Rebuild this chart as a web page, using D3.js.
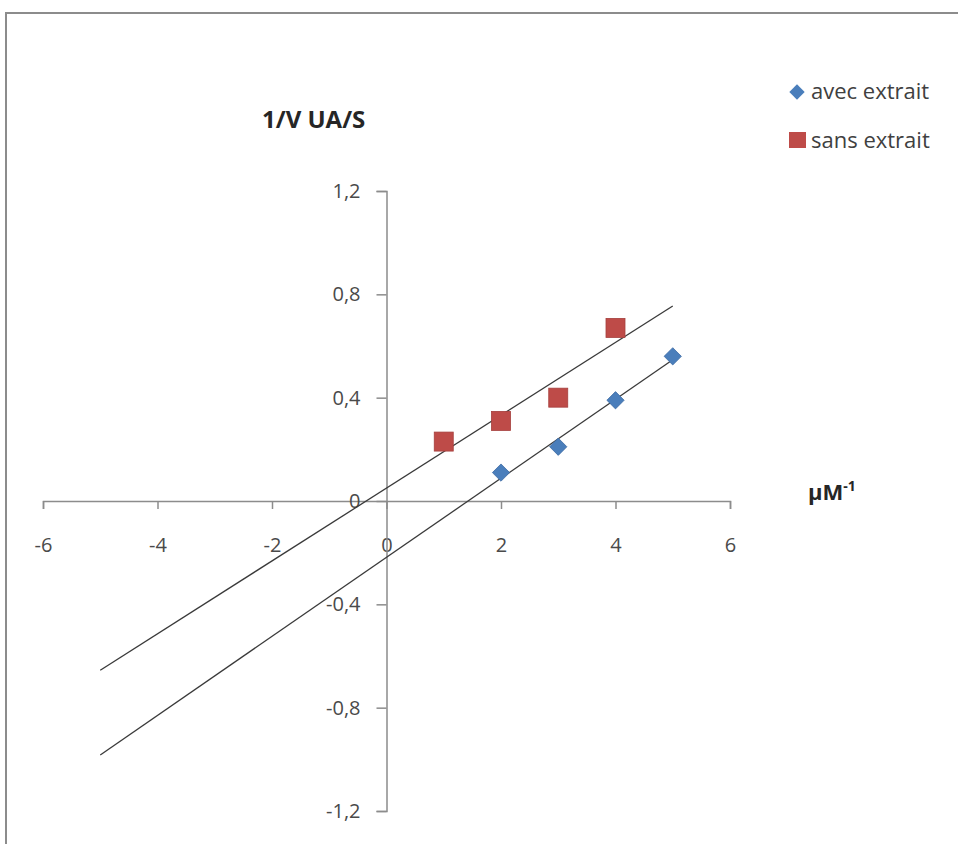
<!DOCTYPE html>
<html>
<head>
<meta charset="utf-8">
<script src="https://cdn.jsdelivr.net/npm/d3@7"></script>
<style>
  body { margin: 0; background: #fff; }
  text { font-family: "Open Sans", Lato, sans-serif; }
</style>
</head>
<body>
<div id="chart"></div>
<script>
// data
var avecX = [2, 3, 4, 5];
var avecY = [0.11, 0.21, 0.39, 0.56];
var sansX = [1, 2, 3, 4];
var sansY = [0.23, 0.31, 0.40, 0.67];
var xTicks = [-6, -4, -2, 0, 2, 4, 6];
var yTicks = [-1.2, -0.8, -0.4, 0, 0.4, 0.8, 1.2];
var trendRange = [-5, 5];

var W = 958, H = 844;

var svg = d3.select("#chart").append("svg")
    .attr("width", W)
    .attr("height", H);

// chart frame
svg.append("rect")
    .attr("x", 6).attr("y", 13)
    .attr("width", W + 10).attr("height", H + 10)
    .attr("fill", "#fff")
    .attr("stroke", "#8c8c8c")
    .attr("stroke-width", 2);

var x = d3.scaleLinear().domain([-6, 6]).range([43, 730]);
var y = d3.scaleLinear().domain([-1.2, 1.2]).range([811, 191]);

var fmt = function(d) { return String(d).replace(".", ","); };

// x axis through y = 0
var gx = svg.append("g")
    .attr("transform", "translate(0," + y(0) + ")")
    .call(d3.axisBottom(x).tickValues(xTicks).tickSize(8).tickPadding(36).tickFormat(fmt));

// y axis through x = 0
var gy = svg.append("g")
    .attr("transform", "translate(" + x(0) + ",0)")
    .call(d3.axisLeft(y).tickValues(yTicks).tickSize(10).tickPadding(16).tickFormat(fmt));

[gx, gy].forEach(function(g) {
  g.select(".domain").attr("stroke", "#8c8c8c").attr("stroke-width", 1.5);
  g.selectAll(".tick line").attr("stroke", "#8c8c8c").attr("stroke-width", 1.5);
  g.selectAll(".tick text")
      .attr("fill", "#4a4a4a")
      .style("font-size", "20px")
      .style("font-family", "'Open Sans', Lato, sans-serif");
});
gx.selectAll(".tick text").attr("dy", "0.35em");

// least-squares trendline
function fit(xs, ys) {
  var mx = d3.mean(xs), my = d3.mean(ys);
  var sxy = d3.sum(xs, function(v, i) { return (v - mx) * (ys[i] - my); });
  var sxx = d3.sum(xs, function(v) { return (v - mx) * (v - mx); });
  var b = sxy / sxx;
  return { slope: b, icpt: my - b * mx };
}

var line = d3.line()
    .x(function(d) { return x(d[0]); })
    .y(function(d) { return y(d[1]); });

[[sansX, sansY], [avecX, avecY]].forEach(function(s) {
  var f = fit(s[0], s[1]);
  var pts = trendRange.map(function(v) { return [v, f.icpt + f.slope * v]; });
  svg.append("path")
      .attr("d", line(pts))
      .attr("fill", "none")
      .attr("stroke", "#3a3a3a")
      .attr("stroke-width", 1.3);
});

// markers
var diamond = d3.symbol().type(d3.symbolDiamond2).size(190);
svg.selectAll(".avec")
    .data(avecX.map(function(v, i) { return [v, avecY[i]]; }))
    .enter().append("path")
      .attr("class", "avec")
      .attr("d", diamond)
      .attr("transform", function(d) { return "translate(" + x(d[0]) + "," + y(d[1]) + ")"; })
      .attr("fill", "#4a7ebb")
      .attr("stroke", "#3d6ba3")
      .attr("stroke-width", 0.8);

svg.selectAll(".sans")
    .data(sansX.map(function(v, i) { return [v, sansY[i]]; }))
    .enter().append("rect")
      .attr("class", "sans")
      .attr("x", function(d) { return x(d[0]) - 9.5; })
      .attr("y", function(d) { return y(d[1]) - 9.5; })
      .attr("width", 19).attr("height", 19)
      .attr("fill", "#be4b48")
      .attr("stroke", "#a53f3c")
      .attr("stroke-width", 0.8);

// axis titles
svg.append("text")
    .attr("x", 262).attr("y", 128)
    .attr("fill", "#262626")
    .style("font-size", "24px")
    .style("font-weight", "bold")
    .text("1/V UA/S");

svg.append("text")
    .attr("x", 808).attr("y", 500)
    .attr("fill", "#262626")
    .style("font-size", "22px")
    .style("font-weight", "bold")
    .text("µM")
  .append("tspan")
    .attr("dy", -9)
    .style("font-size", "14px")
    .text("-1");

// legend
var lg = svg.append("g");
lg.append("path")
    .attr("d", d3.symbol().type(d3.symbolDiamond2).size(150))
    .attr("transform", "translate(797,92)")
    .attr("fill", "#4a7ebb");
lg.append("text")
    .attr("x", 811).attr("y", 99)
    .attr("fill", "#404040")
    .style("font-size", "22px")
    .text("avec extrait");
lg.append("rect")
    .attr("x", 789).attr("y", 132)
    .attr("width", 17).attr("height", 16)
    .attr("fill", "#be4b48");
lg.append("text")
    .attr("x", 811).attr("y", 148)
    .attr("fill", "#404040")
    .style("font-size", "22px")
    .text("sans extrait");
</script>
</body>
</html>
